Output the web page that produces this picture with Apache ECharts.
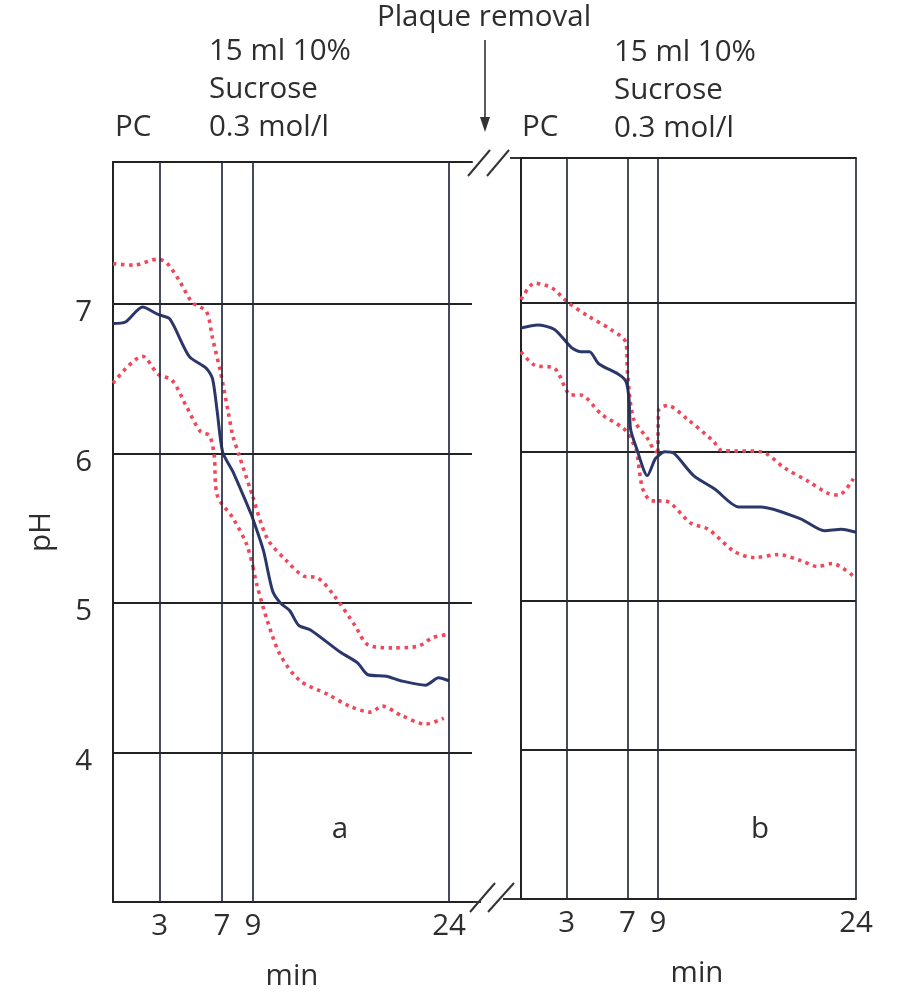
<!DOCTYPE html>
<html>
<head>
<meta charset="utf-8">
<script src="https://cdn.jsdelivr.net/npm/echarts@6/dist/echarts.min.js"></script>
<style>html,body{margin:0;padding:0;background:#fff}#c{width:902px;height:993px}</style>
</head>
<body>
<div id="c"></div>
<script>
// ---- data: [minutes, pH] ----
const aMean = [[0,6.87],[0.8,6.88],[1.9,6.98],[2.9,6.93],[3.65,6.9],[4.9,6.65],[6.0,6.57],[6.4,6.5],[6.7,6.28],[7.05,6.01],[7.7,5.88],[8.9,5.59],[9,5.56],[9.8,5.35],[10.5,5.08],[11.1,5.0],[11.8,4.95],[12.5,4.85],[13.4,4.82],[15.7,4.67],[17.0,4.6],[17.8,4.52],[19.2,4.51],[20.3,4.48],[22.2,4.45],[23.2,4.5],[24,4.48]];
const aUpper = [[0,7.27],[1.3,7.26],[2.9,7.3],[3.5,7.27],[4.3,7.15],[5.1,7.01],[6.0,6.95],[6.4,6.77],[6.9,6.55],[7.4,6.28],[7.7,6.12],[8.1,5.99],[8.8,5.77],[9,5.71],[10.1,5.43],[11.6,5.28],[12.9,5.18],[13.9,5.17],[15.2,5.05],[16.8,4.85],[17.8,4.72],[19.6,4.7],[21.6,4.71],[22.8,4.77],[24,4.79]];
const aLower = [[0,6.47],[1.9,6.65],[2.9,6.53],[3.8,6.49],[4.7,6.32],[5.6,6.15],[6.2,6.12],[6.5,5.99],[6.7,5.72],[7.7,5.57],[8.6,5.39],[9,5.24],[9.3,5.12],[10.1,4.88],[11.1,4.65],[12.6,4.48],[14.7,4.39],[16.4,4.31],[18.0,4.27],[18.9,4.31],[20.3,4.25],[22.2,4.19],[23.6,4.23]];
const bMean = [[0,6.83],[1.1,6.85],[2.2,6.82],[3.3,6.7],[3.9,6.67],[4.5,6.67],[5.1,6.59],[6.4,6.52],[6.9,6.47],[7.1,6.35],[7.2,6.15],[7.6,6.02],[8.3,5.84],[8.8,5.95],[9,5.97],[9.5,6.0],[10.2,5.99],[11.7,5.84],[13.3,5.75],[15.1,5.63],[16.8,5.63],[19.8,5.55],[21.6,5.47],[22.9,5.48],[24,5.46]];
const bUpper = [[0,7.02],[0.9,7.13],[2,7.1],[3.1,7.0],[4.4,6.91],[5.9,6.82],[6.9,6.73],[7.0,6.53],[7.4,6.22],[8.3,6.09],[8.9,6.0],[9,6.0],[9.05,6.28],[9.7,6.31],[11.2,6.22],[13.2,6.07],[13.8,6.01],[16.8,6.0],[18.6,5.89],[20.4,5.8],[21.9,5.72],[22.7,5.71],[23.8,5.82]];
const bLower = [[0,6.67],[0.9,6.58],[2.2,6.56],[3.3,6.38],[3.9,6.38],[5.3,6.25],[6.8,6.15],[7.4,6.05],[7.6,6.0],[8.0,5.75],[8.6,5.67],[9,5.67],[9.5,5.67],[11.5,5.52],[12.8,5.48],[14.8,5.33],[16.3,5.29],[18.1,5.31],[19.8,5.27],[21.1,5.23],[22.2,5.25],[24,5.15]];
const xTicksEarly = [3, 7, 9];
const xTicksLate = [24];
const yTicks = [4, 5, 6, 7];

// ---- chart ----
const FONT = 'Open Sans';
const TXT = '#2e2e2e';
const GRID = '#222';
const VLINE = '#262b40';
const BLUE = '#2b376a';
const RED = '#f0485a';
const FS = 29.5;

const chart = echarts.init(document.getElementById('c'), null, {renderer: 'canvas'});

const grids = [
  {left: 113, top: 162, width: 140, height: 740, xmin: 0, xmax: 9, ymax: 7.95},
  {left: 253, top: 162, width: 219, height: 740, xmin: 9, xmax: 25.76, ymax: 7.95},
  {left: 521, top: 158, width: 137, height: 741, xmin: 0, xmax: 9, ymax: 7.97},
  {left: 658, top: 158, width: 198, height: 741, xmin: 9, xmax: 24, ymax: 7.97}
];
const seg = (arr, lo, hi) => arr.filter(p => p[0] >= lo && p[0] <= hi);

const xAxis = [], yAxis = [], series = [];
grids.forEach((g, i) => {
  const early = (i % 2 === 0);
  xAxis.push({
    type: 'value', gridIndex: i, min: g.xmin, max: g.xmax, position: 'bottom',
    axisLine: {show: true, onZero: false, lineStyle: {color: GRID, width: 2}},
    axisTick: {show: false}, splitLine: {show: false},
    axisLabel: {show: true, customValues: early ? xTicksEarly : xTicksLate,
      color: TXT, fontFamily: FONT, fontSize: FS, margin: 10}
  });
  yAxis.push({
    type: 'value', gridIndex: i, min: 3, max: g.ymax, interval: 1,
    name: (i === 0) ? 'pH' : '', nameLocation: 'middle', nameRotate: 90, nameGap: 56,
    nameTextStyle: {color: TXT, fontFamily: FONT, fontSize: FS},
    axisLine: {show: early, onZero: false, lineStyle: {color: GRID, width: 2}},
    axisTick: {show: false},
    splitLine: {show: true, lineStyle: {color: GRID, width: 2}},
    axisLabel: {show: i === 0, customValues: yTicks, color: TXT, fontFamily: FONT,
      fontSize: FS, margin: 21,
      formatter: v => '{s|' + v + '}',
      rich: {s: {fontFamily: FONT, fontSize: FS, color: TXT, padding: [18, 0, 0, 0]}}}
  });
});
grids.forEach((g, i) => {
  xAxis.push({
    type: 'value', gridIndex: i, min: g.xmin, max: g.xmax, position: 'top',
    axisLine: {show: true, onZero: false, lineStyle: {color: GRID, width: 2}},
    axisTick: {show: false}, splitLine: {show: false}, axisLabel: {show: false}
  });
});

const panels = [
  {mean: aMean, upper: aUpper, lower: aLower, gridBase: 0},
  {mean: bMean, upper: bUpper, lower: bLower, gridBase: 2}
];
panels.forEach(p => {
  [0, 1].forEach(k => {
    const gi = p.gridBase + k;
    const lo = k === 0 ? 0 : 9, hi = k === 0 ? 9 : 24;
    const marks = k === 0 ? xTicksEarly : xTicksLate;
    const redStyle = {color: RED, width: 3.6, type: [3.5, 4.5], cap: 'butt'};
    series.push({
      type: 'line', xAxisIndex: gi, yAxisIndex: gi, data: seg(p.upper, lo, hi),
      showSymbol: false, smooth: 0.3, z: 3, lineStyle: redStyle
    });
    series.push({
      type: 'line', xAxisIndex: gi, yAxisIndex: gi, data: seg(p.lower, lo, hi),
      showSymbol: false, smooth: 0.3, z: 3, lineStyle: redStyle
    });
    series.push({
      type: 'line', xAxisIndex: gi, yAxisIndex: gi, data: seg(p.mean, lo, hi),
      showSymbol: false, smooth: 0.25, z: 4,
      lineStyle: {color: BLUE, width: 3},
      markLine: {
        silent: true, symbol: ['none', 'none'], label: {show: false},
        lineStyle: {color: VLINE, width: 1.7, type: 'solid'},
        data: marks.map(v => ({xAxis: v}))
      }
    });
  });
});

const txt = (text, x, y, align) => ({
  type: 'text', x: x, y: y, silent: true,
  style: {text: text, fill: TXT, font: FS + 'px "' + FONT + '"', textAlign: align || 'left', textVerticalAlign: 'middle'}
});
const seg2 = (x1, y1, x2, y2, w) => ({
  type: 'line', silent: true, shape: {x1, y1, x2, y2},
  style: {stroke: '#333', lineWidth: w || 2}
});

const graphic = [
  txt('Plaque removal', 484, 18, 'center'),
  seg2(485, 40, 485, 122, 1.6),
  {type: 'polygon', silent: true, shape: {points: [[480, 117], [490, 117], [485, 132]]}, style: {fill: '#333'}},
  txt('15 ml 10%', 209, 52), txt('Sucrose', 209, 90), txt('0.3 mol/l', 209, 128),
  txt('PC', 115, 128),
  txt('15 ml 10%', 614, 53), txt('Sucrose', 614, 91), txt('0.3 mol/l', 614, 129),
  txt('PC', 522, 128),
  txt('a', 340, 830, 'center'), txt('b', 760, 830, 'center'),
  txt('min', 292, 977, 'center'), txt('min', 697, 974, 'center'),
  seg2(468, 176, 490, 150), seg2(487, 176, 509, 150),
  seg2(470, 912, 495, 883), seg2(488, 912, 514, 883),
  seg2(472, 902, 481, 902), seg2(503, 899, 521, 899), seg2(510, 158, 521, 158)
];

chart.setOption({
  animation: false,
  backgroundColor: '#fff',
  textStyle: {fontFamily: FONT},
  grid: grids.map(g => ({left: g.left, top: g.top, width: g.width, height: g.height, containLabel: false})),
  xAxis: xAxis,
  yAxis: yAxis,
  series: series,
  graphic: graphic
});
</script>
</body>
</html>
